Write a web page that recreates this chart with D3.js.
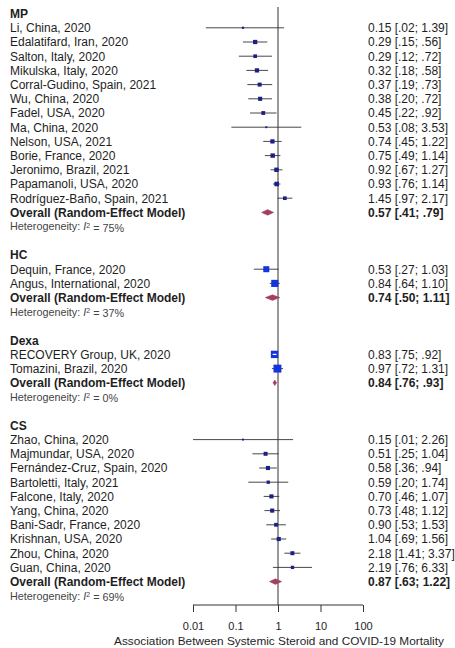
<!DOCTYPE html>
<html>
<head>
<meta charset="utf-8">
<script src="https://cdn.jsdelivr.net/npm/d3@7"></script>
<style>
  body { margin: 0; background: #fff; }
  svg { font-family: "Liberation Sans", Arial, sans-serif; display: block; }
</style>
</head>
<body>
<script>
'use strict';

// subgroups (treatment type)
const groupNames = ["MP", "HC", "Dexa", "CS"];

// individual studies, in plot order
const studyLabels = [
  "Li, China, 2020", "Edalatifard, Iran, 2020", "Salton, Italy, 2020", "Mikulska, Italy, 2020",
  "Corral-Gudino, Spain, 2021", "Wu, China, 2020", "Fadel, USA, 2020", "Ma, China, 2020",
  "Nelson, USA, 2021", "Borie, France, 2020", "Jeronimo, Brazil, 2021", "Papamanoli, USA, 2020",
  "Rodríguez-Baño, Spain, 2021",
  "Dequin, France, 2020", "Angus, International, 2020",
  "RECOVERY Group, UK, 2020", "Tomazini, Brazil, 2020",
  "Zhao, China, 2020", "Majmundar, USA, 2020", "Fernández-Cruz, Spain, 2020", "Bartoletti, Italy, 2021",
  "Falcone, Italy, 2020", "Yang, China, 2020", "Bani-Sadr, France, 2020", "Krishnan, USA, 2020",
  "Zhou, China, 2020", "Guan, China, 2020"
];
const studyGroup = [
  "MP", "MP", "MP", "MP", "MP", "MP", "MP", "MP", "MP", "MP", "MP", "MP", "MP",
  "HC", "HC",
  "Dexa", "Dexa",
  "CS", "CS", "CS", "CS", "CS", "CS", "CS", "CS", "CS", "CS"
];
const studyEst = [0.15, 0.29, 0.29, 0.32, 0.37, 0.38, 0.45, 0.53, 0.74, 0.75, 0.92, 0.93, 1.45,
  0.53, 0.84,
  0.83, 0.97,
  0.15, 0.51, 0.58, 0.59, 0.70, 0.73, 0.90, 1.04, 2.18, 2.19];
const studyLow = [0.02, 0.15, 0.12, 0.18, 0.19, 0.20, 0.22, 0.08, 0.45, 0.49, 0.67, 0.76, 0.97,
  0.27, 0.64,
  0.75, 0.72,
  0.01, 0.25, 0.36, 0.20, 0.46, 0.48, 0.53, 0.69, 1.41, 0.76];
const studyHigh = [1.39, 0.56, 0.72, 0.58, 0.73, 0.72, 0.92, 3.53, 1.22, 1.14, 1.27, 1.14, 2.17,
  1.03, 1.10,
  0.92, 1.31,
  2.26, 1.04, 0.94, 1.74, 1.07, 1.12, 1.53, 1.56, 3.37, 6.33];
const studyWeight = [4, 15, 11, 15, 13, 14, 12, 3, 15, 16, 16, 17, 11,
  30, 42,
  45, 52,
  3, 13, 14, 9, 14, 14, 12, 14, 13, 9];

// pooled random-effect estimates per subgroup
const pooledEst = [0.57, 0.74, 0.84, 0.87];
const pooledLow = [0.41, 0.50, 0.76, 0.63];
const pooledHigh = [0.79, 1.11, 0.93, 1.22];
const groupI2 = [75, 37, 0, 69];

const xTicks = [0.01, 0.1, 1, 10, 100];
const xTitle = "Association Between Systemic Steroid and COVID-19 Mortality";

const width = 455, height = 648;

// build the row list: header, studies, overall, heterogeneity, blank
let rows = [];
groupNames.forEach((g, gi) => {
  rows.push({ type: "header", label: g });
  studyLabels.forEach((lab, i) => {
    if (studyGroup[i] === g) {
      rows.push({ type: "study", label: lab, group: g, est: studyEst[i], lo: studyLow[i],
        hi: studyHigh[i], w: studyWeight[i] });
    }
  });
  rows.push({ type: "overall", label: "Overall (Random-Effect Model)", group: g,
    est: pooledEst[gi], lo: pooledLow[gi], hi: pooledHigh[gi] });
  rows.push({ type: "het", i2: groupI2[gi] });
  if (gi < groupNames.length - 1) rows.push({ type: "blank" });
});
rows.forEach((r, i) => r.idx = i);

const svg = d3.select("body").append("svg")
  .attr("width", width)
  .attr("height", height);

// scales
const x = d3.scaleLog().domain([0.01, 100]).range([193, 363]);
const y = d3.scaleLinear().domain([0, rows.length - 1]).range([13.6, 595.8]);
const boxSize = d3.scaleSqrt().domain([0, 100]).range([0, 11]);

const navy = "#1b1f86", blue = "#1434dc", diamondCol = "#a3405e", lineCol = "#333";
const squareColor = g => (g === "HC" || g === "Dexa") ? blue : navy;

const fmtEst = d3.format(".2f");
const fmtCi = v => v < 1 ? fmtEst(v).slice(1) : fmtEst(v);

const axisY = 605;

// reference line at 1
svg.append("line")
  .attr("x1", x(1)).attr("x2", x(1))
  .attr("y1", 7).attr("y2", axisY)
  .style("stroke", lineCol)
  .style("stroke-width", 1);

// left labels
const labelRows = rows.filter(r => r.type === "header" || r.type === "study" || r.type === "overall");
svg.selectAll(".lab")
  .data(labelRows)
  .enter().append("text")
  .attr("class", "lab")
  .attr("x", 10)
  .attr("y", d => y(d.idx))
  .attr("dy", "0.36em")
  .style("font-size", "12px")
  .style("font-weight", d => d.type === "study" ? "normal" : "bold")
  .style("fill", "#1e1e1e")
  .text(d => d.label);

// heterogeneity lines
const het = svg.selectAll(".het")
  .data(rows.filter(r => r.type === "het"))
  .enter().append("text")
  .attr("class", "het")
  .attr("x", 10)
  .attr("y", d => y(d.idx))
  .attr("dy", "0.36em")
  .style("font-size", "10.8px")
  .style("fill", "#444");
het.append("tspan").text("Heterogeneity: ");
het.append("tspan").style("font-style", "italic").text("I");
het.append("tspan").attr("dy", "-0.4em").style("font-size", "7px").text("2");
het.append("tspan").attr("dy", "0.4em").text(d => " = " + d.i2 + "%");

// value column
const valRows = rows.filter(r => r.type === "study" || r.type === "overall");
svg.selectAll(".val")
  .data(valRows)
  .enter().append("text")
  .attr("class", "val")
  .attr("x", 368)
  .attr("y", d => y(d.idx))
  .attr("dy", "0.36em")
  .style("font-size", "12px")
  .style("font-weight", d => d.type === "overall" ? "bold" : "normal")
  .style("fill", "#1e1e1e")
  .text(d => fmtEst(d.est) + " [" + fmtCi(d.lo) + "; " + fmtCi(d.hi) + "]");

// study CIs and squares
const studies = rows.filter(r => r.type === "study");
svg.selectAll(".ci")
  .data(studies)
  .enter().append("line")
  .attr("class", "ci")
  .attr("x1", d => x(d.lo))
  .attr("x2", d => x(d.hi))
  .attr("y1", d => y(d.idx))
  .attr("y2", d => y(d.idx))
  .style("stroke", lineCol)
  .style("stroke-width", 0.9);

svg.selectAll(".sq")
  .data(studies)
  .enter().append("rect")
  .attr("class", "sq")
  .attr("x", d => x(d.est) - boxSize(d.w) / 2)
  .attr("y", d => y(d.idx) - boxSize(d.w) / 2)
  .attr("width", d => boxSize(d.w))
  .attr("height", d => boxSize(d.w))
  .style("fill", d => squareColor(d.group));

// CI drawn in white where it sits inside the square
svg.selectAll(".ciin")
  .data(studies.filter(d => x(d.hi) - x(d.lo) < boxSize(d.w) - 1))
  .enter().append("line")
  .attr("class", "ciin")
  .attr("x1", d => x(d.lo))
  .attr("x2", d => x(d.hi))
  .attr("y1", d => y(d.idx))
  .attr("y2", d => y(d.idx))
  .style("stroke", "#fff")
  .style("stroke-width", 1.2);

// pooled diamonds
svg.selectAll(".dia")
  .data(rows.filter(r => r.type === "overall"))
  .enter().append("path")
  .attr("class", "dia")
  .attr("d", d => {
    const yc = y(d.idx), h = 2.8;
    return "M" + x(d.lo) + "," + yc + "L" + x(d.est) + "," + (yc - h) +
      "L" + x(d.hi) + "," + yc + "L" + x(d.est) + "," + (yc + h) + "Z";
  })
  .style("fill", diamondCol)
  .style("stroke", diamondCol)
  .style("stroke-width", 0.5);

// x axis
const xAxis = d3.axisBottom(x)
  .tickValues(xTicks)
  .tickSize(7)
  .tickPadding(10)
  .tickFormat(d => String(d));
const gx = svg.append("g")
  .attr("transform", "translate(0," + axisY + ")")
  .call(xAxis);
gx.select(".domain").attr("d", "M" + x(0.01) + ",0H" + x(100)).style("stroke", lineCol);
gx.selectAll(".tick line").style("stroke", lineCol);
gx.selectAll(".tick text")
  .style("font-family", "\"Liberation Sans\", Arial, sans-serif")
  .style("font-size", "11px")
  .style("fill", "#1e1e1e");

svg.append("text")
  .attr("x", 279)
  .attr("y", 645)
  .attr("text-anchor", "middle")
  .style("font-size", "11.8px")
  .style("fill", "#1e1e1e")
  .text(xTitle);
</script>
</body>
</html>
